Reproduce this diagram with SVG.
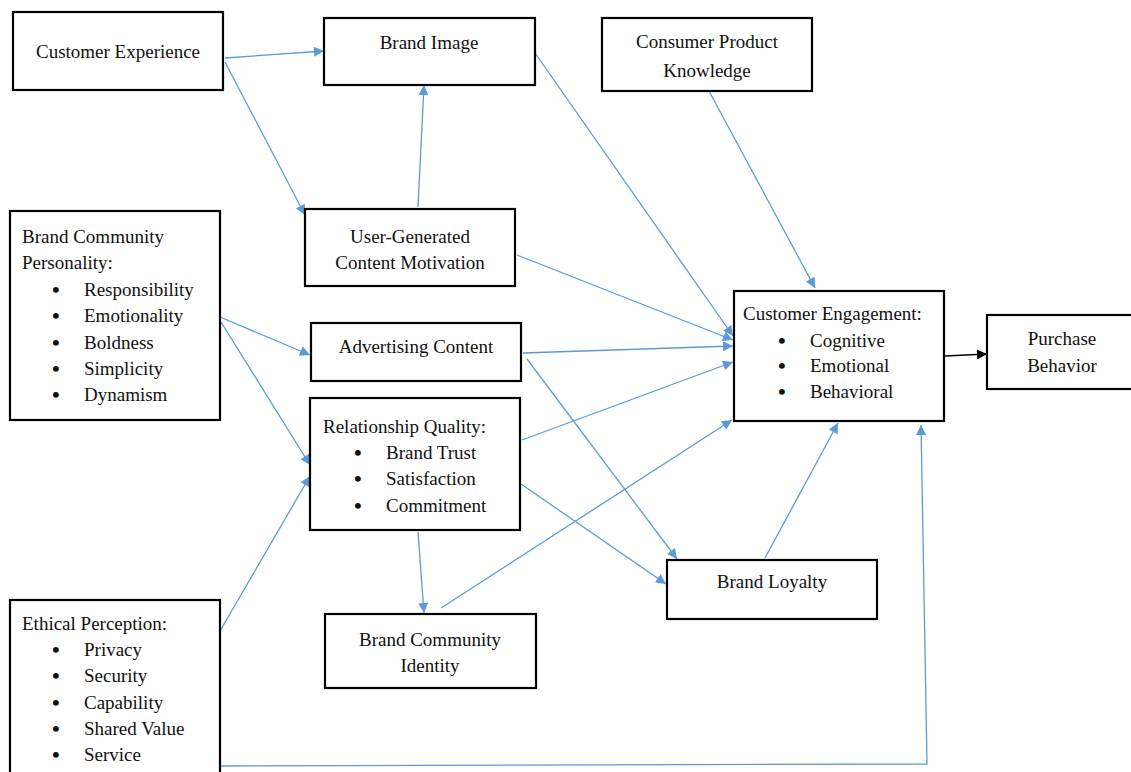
<svg xmlns="http://www.w3.org/2000/svg" width="1131" height="772" viewBox="0 0 1131 772">
<defs>
<style>
.box{fill:#fff;stroke:#000;stroke-width:2.2}
text{font-family:"Liberation Serif","Times New Roman",serif;font-size:19px;fill:#111}
.c{text-anchor:middle}
.b{font-size:22px;font-weight:bold}
.e{fill:none;stroke:#5B9BD5;stroke-width:1.3}
.k{fill:none;stroke:#000;stroke-width:1.3}
</style>
<marker id="ab" viewBox="0 0 10 10" refX="10" refY="5" markerWidth="12" markerHeight="10" markerUnits="userSpaceOnUse" orient="auto"><path d="M0,0 L10,5 L0,10 z" fill="#5B9BD5"/></marker>
<marker id="ak" viewBox="0 0 10 10" refX="10" refY="5" markerWidth="12" markerHeight="10" markerUnits="userSpaceOnUse" orient="auto"><path d="M0,0 L10,5 L0,10 z" fill="#000"/></marker>
</defs>
<rect width="1131" height="772" fill="#fff"/>
<g id="connectors">
<line class="e" x1="225" y1="58" x2="324" y2="51" marker-end="url(#ab)"/>
<line class="e" x1="225" y1="62" x2="305" y2="215" marker-end="url(#ab)"/>
<line class="e" x1="418" y1="207" x2="424" y2="85" marker-end="url(#ab)"/>
<line class="e" x1="535" y1="53" x2="733" y2="336" marker-end="url(#ab)"/>
<line class="e" x1="517" y1="255" x2="733" y2="340" marker-end="url(#ab)"/>
<line class="e" x1="709" y1="91" x2="815" y2="288" marker-end="url(#ab)"/>
<line class="e" x1="523" y1="353" x2="733" y2="346" marker-end="url(#ab)"/>
<line class="e" x1="527" y1="359" x2="677" y2="559" marker-end="url(#ab)"/>
<line class="e" x1="522" y1="440" x2="733" y2="362" marker-end="url(#ab)"/>
<line class="e" x1="521" y1="484" x2="666" y2="584" marker-end="url(#ab)"/>
<line class="e" x1="418" y1="532" x2="424" y2="613" marker-end="url(#ab)"/>
<line class="e" x1="441" y1="608" x2="732" y2="420" marker-end="url(#ab)"/>
<line class="e" x1="765" y1="558" x2="838" y2="423" marker-end="url(#ab)"/>
<polyline class="e" points="220,766 927,764 921,425" marker-end="url(#ab)"/>
<line class="e" x1="220" y1="317" x2="310" y2="355" marker-end="url(#ab)"/>
<line class="e" x1="221" y1="322" x2="310" y2="465" marker-end="url(#ab)"/>
<line class="e" x1="220" y1="631" x2="310" y2="476" marker-end="url(#ab)"/>
<line class="k" x1="945" y1="356" x2="987" y2="354" marker-end="url(#ak)"/>
</g>
<g id="customer-experience"><rect class="box" x="13" y="12" width="210" height="78"/><text class="c" x="118" y="58">Customer Experience</text></g>
<g id="brand-image"><rect class="box" x="324" y="18" width="211" height="67"/><text class="c" x="429" y="49">Brand Image</text></g>
<g id="consumer-product-knowledge"><rect class="box" x="602" y="18" width="210" height="73"/><text class="c" x="707" y="48">Consumer Product</text><text class="c" x="707" y="77">Knowledge</text></g>
<g id="ugc-motivation"><rect class="box" x="305" y="209" width="210" height="77"/><text class="c" x="410" y="243">User-Generated</text><text class="c" x="410" y="269">Content Motivation</text></g>
<g id="brand-community-personality"><rect class="box" x="10" y="211" width="210" height="209"/>
<text x="22" y="243">Brand Community</text><text x="22" y="269">Personality:</text>
<text class="b" x="52" y="297">•</text><text x="84" y="296">Responsibility</text>
<text class="b" x="52" y="323">•</text><text x="84" y="322">Emotionality</text>
<text class="b" x="52" y="350">•</text><text x="84" y="349">Boldness</text>
<text class="b" x="52" y="376">•</text><text x="84" y="375">Simplicity</text>
<text class="b" x="52" y="402">•</text><text x="84" y="401">Dynamism</text></g>
<g id="advertising-content"><rect class="box" x="311" y="323" width="210" height="58"/><text class="c" x="416" y="353">Advertising Content</text></g>
<g id="relationship-quality"><rect class="box" x="310" y="398" width="210" height="132"/>
<text x="323" y="433">Relationship Quality:</text>
<text class="b" x="354" y="460">•</text><text x="386" y="459">Brand Trust</text>
<text class="b" x="354" y="486">•</text><text x="386" y="485">Satisfaction</text>
<text class="b" x="354" y="513">•</text><text x="386" y="512">Commitment</text></g>
<g id="brand-community-identity"><rect class="box" x="325" y="614" width="211" height="74"/><text class="c" x="430" y="646">Brand Community</text><text class="c" x="430" y="672">Identity</text></g>
<g id="ethical-perception"><rect class="box" x="10" y="600" width="210" height="185"/>
<text x="22" y="630">Ethical Perception:</text>
<text class="b" x="52" y="657">•</text><text x="84" y="656">Privacy</text>
<text class="b" x="52" y="683">•</text><text x="84" y="682">Security</text>
<text class="b" x="52" y="710">•</text><text x="84" y="709">Capability</text>
<text class="b" x="52" y="736">•</text><text x="84" y="735">Shared Value</text>
<text class="b" x="52" y="762">•</text><text x="84" y="761">Service</text></g>
<g id="customer-engagement"><rect class="box" x="734" y="291" width="210" height="130"/>
<text x="743" y="320">Customer Engagement:</text>
<text class="b" x="778" y="348">•</text><text x="810" y="347">Cognitive</text>
<text class="b" x="778" y="373">•</text><text x="810" y="372">Emotional</text>
<text class="b" x="778" y="399">•</text><text x="810" y="398">Behavioral</text></g>
<g id="purchase-behavior"><rect class="box" x="987" y="315" width="160" height="74"/><text class="c" x="1062" y="345">Purchase</text><text class="c" x="1062" y="372">Behavior</text></g>
<g id="brand-loyalty"><rect class="box" x="667" y="560" width="210" height="59"/><text class="c" x="772" y="588">Brand Loyalty</text></g>
</svg>
